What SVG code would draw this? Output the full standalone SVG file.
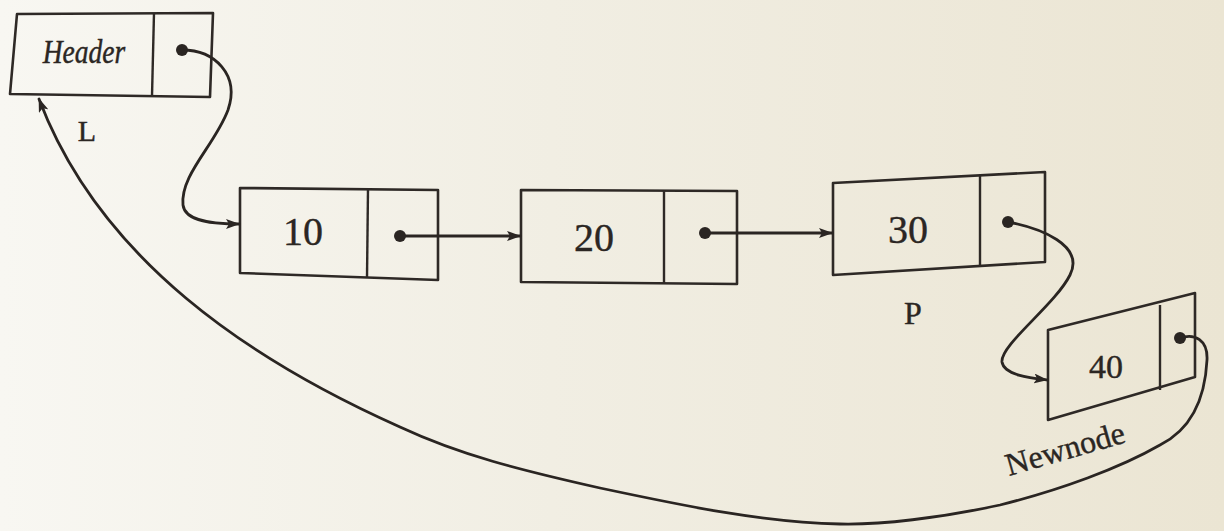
<svg xmlns="http://www.w3.org/2000/svg" width="1224" height="531" viewBox="0 0 1224 531">
<defs>
<linearGradient id="bg" x1="0" y1="0" x2="1" y2="0">
<stop offset="0" stop-color="#f8f7f2"/>
<stop offset="0.45" stop-color="#f1eee3"/>
<stop offset="1" stop-color="#ebe5d3"/>
</linearGradient>
<marker id="arr" viewBox="0 0 14 10" refX="13" refY="5" markerWidth="14" markerHeight="10" markerUnits="userSpaceOnUse" orient="auto">
<path d="M0,0 L14,5 L0,10 L3,5 Z" fill="#2a2522"/>
</marker>
<marker id="dot" viewBox="0 0 12 12" refX="6" refY="6" markerWidth="12" markerHeight="12" markerUnits="userSpaceOnUse">
<circle cx="6" cy="6" r="6" fill="#2a2522"/>
</marker>
</defs>
<style>
.box{fill:none;stroke:#2e2926;stroke-width:2.6;stroke-linejoin:round}
.div{stroke:#2e2926;stroke-width:2.4}
.con{fill:none;stroke:#2a2522;stroke-width:2.8;stroke-linecap:round}
.t{font-family:"Liberation Serif","Times New Roman",serif;fill:#2b2623;stroke:#2b2623;stroke-width:0.4;text-anchor:middle}
</style>
<rect width="1224" height="531" fill="url(#bg)"/>
<g id="node-header">
<polygon class="box" points="17,14 213,13 210,97 10,94"/>
<line class="div" x1="154" y1="13" x2="152" y2="96"/>
<text class="t" x="84" y="63" font-size="29" font-style="italic" transform="translate(84 63) scale(0.95 1.15) translate(-84 -63)">Header</text>
</g>
<g id="label-L"><text class="t" x="87" y="141" font-size="30">L</text></g>
<g id="node-10">
<polygon class="box" points="240,188 438,190 438,280 240,273"/>
<line class="div" x1="368" y1="189" x2="367" y2="278"/>
<text class="t" x="303" y="245" font-size="40">10</text>
</g>
<g id="node-20">
<polygon class="box" points="521,190 737,191 737,284 521,282"/>
<line class="div" x1="664" y1="190" x2="664" y2="284"/>
<text class="t" x="594" y="251" font-size="40">20</text>
</g>
<g id="node-30">
<polygon class="box" points="833,183 1045,172 1045,262 833,275"/>
<line class="div" x1="980" y1="175" x2="980" y2="267"/>
<text class="t" x="908" y="243" font-size="40">30</text>
</g>
<g id="label-P"><text class="t" x="913" y="324" font-size="32">P</text></g>
<g id="node-40">
<polygon class="box" points="1048,330 1195,293 1195,377 1048,420"/>
<line class="div" x1="1160" y1="305" x2="1160" y2="390"/>
<text class="t" x="1106" y="378" font-size="34">40</text>
</g>
<g id="label-newnode"><text class="t" x="1068" y="459" font-size="32" transform="rotate(-16 1068 459)">Newnode</text></g>
<g id="connectors">
<path class="con" marker-start="url(#dot)" marker-end="url(#arr)" d="M182,50 C215,50 240,75 228,110 C215,145 180,175 183,205 C185,222 215,224 239,224"/>
<path class="con" marker-start="url(#dot)" marker-end="url(#arr)" d="M400,236 L520,236"/>
<path class="con" marker-start="url(#dot)" marker-end="url(#arr)" d="M705,233 L832,233"/>
<path class="con" marker-start="url(#dot)" marker-end="url(#arr)" d="M1008,222 C1040,228 1085,245 1070,275 C1055,305 1000,345 1002,362 C1004,375 1030,378 1047,380"/>
<path class="con" marker-start="url(#dot)" marker-end="url(#arr)" d="M1180,338 C1195,333 1208,340 1207,360 C1205,400 1190,430 1160,445 C1120,468 1060,490 1000,505 C940,518 880,525 840,524 C760,522 680,505 600,488 C520,470 460,455 400,427 C250,360 100,260 39,99"/>
</g>
</svg>
